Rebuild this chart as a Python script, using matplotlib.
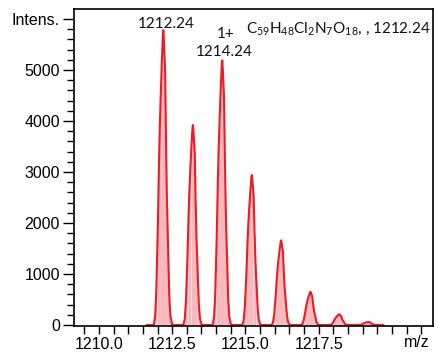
import numpy as np
import matplotlib
matplotlib.use("Agg")
import matplotlib.pyplot as plt
from matplotlib.ticker import MultipleLocator, FixedLocator
from matplotlib.transforms import blended_transform_factory

# isotope peaks (apex m/z and intensity)
peak_mz = [1212.20, 1213.21, 1214.21, 1215.22, 1216.22, 1217.22, 1218.20, 1219.19]
peak_int = [5780, 3920, 5190, 2940, 1660, 650, 210, 60]

# profile shape of one peak: offset from apex (m/z) and fraction of apex height
shape_dx = [-0.33, -0.28, -0.24, -0.19, -0.15, -0.12, -0.09, -0.05, -0.015, 0.0,
            0.02, 0.06, 0.09, 0.12, 0.16, 0.20, 0.24, 0.30]
shape_frac = [0.0, 0.03, 0.12, 0.33, 0.55, 0.68, 0.78, 0.90, 0.99, 1.0,
              0.96, 0.86, 0.62, 0.43, 0.27, 0.10, 0.03, 0.0]

baseline_mz = [1211.64, 1219.70]

ytick_vals = [0, 1000, 2000, 3000, 4000, 5000, 6000]
ytick_labels = ["0", "1000", "2000", "3000", "4000", "5000", "Intens."]
xtick_vals = [1210.0, 1212.5, 1215.0, 1217.5]
xtick_labels = ["1210.0", "1212.5", "1215.0", "1217.5"]

# build the profile trace
mz = [baseline_mz[0]]
inten = [0]
for c, h in zip(peak_mz, peak_int):
    for dx, f in zip(shape_dx, shape_frac):
        mz.append(c + dx)
        inten.append(h * f)
mz.append(baseline_mz[1])
inten.append(0)
mz = np.array(mz)
inten = np.array(inten)

plt.rcParams["font.family"] = ["Liberation Sans", "DejaVu Sans"]
plt.rcParams["mathtext.fontset"] = "custom"
plt.rcParams["mathtext.rm"] = "Lato"
plt.rcParams["mathtext.it"] = "Lato"

fig = plt.figure(figsize=(4.39, 3.56), dpi=100)
ax = fig.add_axes([74 / 439, 1 - 326 / 356, (433 - 74) / 439, (326 - 9) / 356])

red = "#ec1c24"
ax.fill_between(mz, 0, inten, color="#fcd9dc", lw=0)
ax.vlines(mz[inten > 0], 0, inten[inten > 0] * 0.97, color="#f7b4ba", lw=0.6)
ax.plot(mz, inten, color=red, lw=1.5)

ax.set_xlim(1209.15, 1221.4)
ax.set_ylim(-20, 6196)

ax.yaxis.set_major_locator(FixedLocator(ytick_vals))
ax.set_yticklabels(ytick_labels)
ax.yaxis.set_minor_locator(MultipleLocator(200))
ax.xaxis.set_major_locator(FixedLocator(xtick_vals))
ax.set_xticklabels(xtick_labels)
ax.xaxis.set_minor_locator(MultipleLocator(0.5))

ax.tick_params(axis="both", which="major", length=8, width=1.0, labelsize=11.5, pad=2)
ax.tick_params(axis="both", which="minor", length=5, width=1.0)
ax.tick_params(axis="x", which="both", length=6)
for s in ax.spines.values():
    s.set_linewidth(1.2)

trans = blended_transform_factory(ax.transData, ax.transAxes)
ax.text(1220.86, -0.028, "m/z", transform=trans, ha="center", va="top", fontsize=11.5)

lab_font = dict(family="Lato", fontsize=11, color="#111111")
ax.annotate("1212.24", xy=(peak_mz[0], peak_int[0]), xytext=(3, 2),
            textcoords="offset pixels", ha="center", va="baseline", **lab_font)
ax.annotate("1214.24", xy=(peak_mz[2], peak_int[2]), xytext=(2, 4),
            textcoords="offset pixels", ha="center", va="baseline", **lab_font)
ax.annotate("1+", xy=(peak_mz[2], peak_int[2]), xytext=(3, 22),
            textcoords="offset pixels", ha="center", va="baseline", **lab_font)
ax.text(0.993, 0.965, r"C$_{59}$H$_{48}$Cl$_{2}$N$_{7}$O$_{18}$, , 1212.24",
        transform=ax.transAxes, ha="right", va="top", **lab_font)

fig.savefig("out.png", dpi=100)
